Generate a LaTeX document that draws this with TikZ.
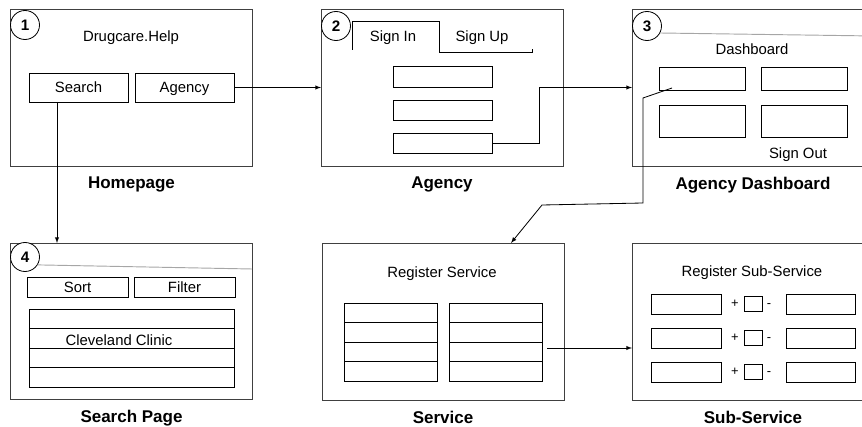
\documentclass[tikz,border=0pt]{standalone}
\usepackage{fontspec}
\setmainfont{Liberation Sans}
\usetikzlibrary{arrows}
\usetikzlibrary{positioning}
\tikzset{>=latex}

\begin{document}
\begin{tikzpicture}[x=0.03cm, y=-0.03cm,
        page/.style={draw=black!75, line width=0.8pt, minimum width=7.26cm, minimum height=4.71cm, inner sep=0, outer sep=0},
        box/.style={draw, line width=0.6pt, inner sep=0, outer sep=0, text height=0.95em, text depth=0.05em, font=\fontsize{12.7}{15}\selectfont},
        num/.style={draw, circle, fill=white, line width=0.7pt, minimum size=0.87cm, inner sep=0, font=\fontsize{13}{15}\selectfont\bfseries},
        txt/.style={text height=0.95em, text depth=0.05em, font=\fontsize{12.7}{15}\selectfont},
        small/.style={inner sep=0, text height=0.7em, text depth=0.1em, font=\fontsize{11}{13}\selectfont},
        title/.style={inner sep=0, font=\fontsize{14.5}{17}\selectfont\bfseries},
        headline/.style={draw=black!35, line width=0.8pt},
        conn/.style={->, line width=0.7pt}]
        \clip (0,0) rectangle (862,427);

        % the six pages
        \node [page] (page1) at (131.5,87.5) {};
        \node [page] (page2) at (442,87.5) {};
        \node [page] (page3) at (753,87.5) {};
        \node [page, minimum height=4.68cm] (page4) at (131.5,321) {};
        \node [page] (page5) at (443,321.5) {};
        \node [page] (page6) at (753,321.5) {};

        \node [title, below=0.33cm of page1] (homepage) {Homepage};
        \node [title, below=0.33cm of page2] (agencytitle) {Agency};
        \node [title, below=0.33cm of page3] (dashtitle) {Agency Dashboard};
        \node [title, below=0.33cm of page4] (searchtitle) {Search Page};
        \node [title, below=0.33cm of page5] (servicetitle) {Service};
        \node [title, below=0.33cm of page6] (subtitle) {Sub-Service};

        \node [num] (n1) at (25,25) {1};
        \node [num] (n2) at (336,26) {2};
        \node [num] (n3) at (647,26) {3};
        \node [num] (n4) at (25,257) {4};

        % homepage
        \node [txt] (site) at (131,36) {Drugcare.Help};
        \node [box, minimum width=2.97cm, minimum height=0.87cm] (search) at (78.5,87.5) {Search};
        \node [box, minimum width=2.97cm, minimum height=0.87cm] (agency) at (184.5,87.5) {Agency};

        % agency login
        \node [txt] (signin) at (393,36) {Sign In};
        \node [txt] (signup) at (482,36) {Sign Up};
        \draw [line width=0.6pt] (352,50) -- (352,21) -- (439,21) -- (439,52) -- (532,52) -- (532,49);
        \foreach \y/\n in {77/1,110.5/2,143.5/3}
            \node [box, minimum width=2.97cm, minimum height=0.62cm] (field\n) at (442.5,\y) {};

        % dashboard
        \draw [headline] (n3.-28) -- (874,36);
        \node [txt] (dash) at (752,49) {Dashboard};
        \node [box, minimum width=2.58cm, minimum height=0.69cm] (tile1) at (702,78.5) {};
        \node [box, minimum width=2.58cm, minimum height=0.69cm] (tile2) at (804,78.5) {};
        \node [box, minimum width=2.58cm, minimum height=0.96cm] (tile3) at (702,121) {};
        \node [box, minimum width=2.58cm, minimum height=0.96cm] (tile4) at (804,121) {};
        \node [txt] (signout) at (798,153) {Sign Out};

        % search page
        \draw [headline] (n4.-32) -- (252,269);
        \node [box, minimum width=3.03cm, minimum height=0.6cm] (sort) at (77.5,287) {Sort};
        \node [box, minimum width=3.03cm, minimum height=0.6cm] (filter) at (184.5,287) {Filter};
        \foreach \i in {1,...,4}
            \node [box, minimum width=6.15cm, minimum height=0.585cm] (hit\i) at (131.5,299.25+19.5*\i) {};
        \node [txt] (clinic) at (119,340) {Cleveland Clinic};

        % service
        \node [txt] (regsrv) at (442,272) {Register Service};
        \foreach \i in {1,...,4} {
            \node [box, minimum width=2.79cm, minimum height=0.585cm] (colA\i) at (390.5,293.25+19.5*\i) {};
            \node [box, minimum width=2.79cm, minimum height=0.585cm] (colB\i) at (495.5,293.25+19.5*\i) {};
        }

        % sub-service
        \node [txt] (regsub) at (752,271) {Register Sub-Service};
        \foreach \i/\y in {1/304,2/338,3/372} {
            \node [box, minimum width=2.1cm, minimum height=0.6cm] (nameA\i) at (686,\y) {};
            \node [small] (plus\i) at (735,\y) {+};
            \node [box, minimum width=0.54cm, minimum height=0.45cm] (qty\i) at (753,\y) {};
            \node [small] (minus\i) at (769,\y) {-};
            \node [box, minimum width=2.07cm, minimum height=0.6cm] (nameB\i) at (820.5,\y) {};
        }

        % flow between pages
        \draw [conn] (agency.east) -- (agency.east -| page2.west);
        \coordinate (searchout) at ([xshift=-0.645cm]search.south);
        \draw [conn] (searchout) -- (searchout |- page4.north);
        \draw [conn] (field3.east) -- ++(47,0) |- (page3.west);
        \coordinate (tileout) at ([shift={(-30,9.5)}]tile1.center);
        \draw [conn] (tileout) -- (643,98) -- (643,203) -- (542,205) -- ([xshift=2.04cm]page5.north);
        \coordinate (srvout) at (547,348);
        \draw [conn] (srvout) -- (srvout -| page6.west);
    \end{tikzpicture}
\end{document}
